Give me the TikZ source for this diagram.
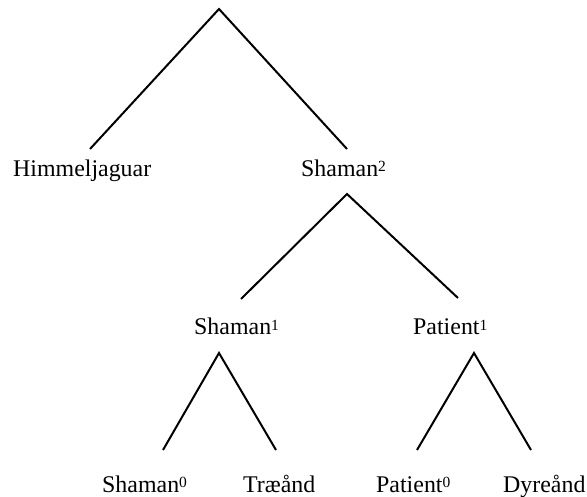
\documentclass[tikz,border=0pt]{standalone}
\usepackage{fontspec}
\setmainfont{Liberation Serif}
\newcommand{\supnum}[1]{\raisebox{5pt}{\fontsize{15.5}{15.5}\selectfont #1}}
\begin{document}
\begin{tikzpicture}[x=1pt,y=-1pt,
  branch/.style={line width=2pt, line cap=butt, line join=miter},
  lbl/.style={anchor=base west, inner sep=0pt, font=\fontsize{23.9}{28}\selectfont}]
\useasboundingbox (0,0) rectangle (587,497);
% tree coordinates
\coordinate (r) at (219,9);
\coordinate (rl) at (90,149);
\coordinate (rr) at (347,149);
\coordinate (s2) at (347,194);
\coordinate (s2l) at (241,299);
\coordinate (s2r) at (458,298);
\coordinate (s1) at (219,353);
\coordinate (s1l) at (163,450);
\coordinate (s1r) at (276,450);
\coordinate (p1) at (474,353);
\coordinate (p1l) at (417,450);
\coordinate (p1r) at (531,450);
% branches
\draw[branch] (rl) -- (r) -- (rr);
\draw[branch] (s2l) -- (s2) -- (s2r);
\draw[branch] (s1l) -- (s1) -- (s1r);
\draw[branch] (p1l) -- (p1) -- (p1r);
% labels
\node[lbl] (himmel) at (13,177) {Himmeljaguar};
\node[lbl] (shaman2) at (301,177) {Shaman\supnum{2}};
\node[lbl] (shaman1) at (194,335) {Shaman\supnum{1}};
\node[lbl] (patient1) at (413,335) {Patient\supnum{1}};
\node[lbl] (shaman0) at (102,492) {Shaman\supnum{0}};
\node[lbl] (traeand) at (243,492) {Træånd};
\node[lbl] (patient0) at (376,492) {Patient\supnum{0}};
\node[lbl] (dyreand) at (503,492) {Dyreånd};
\end{tikzpicture}
\end{document}
